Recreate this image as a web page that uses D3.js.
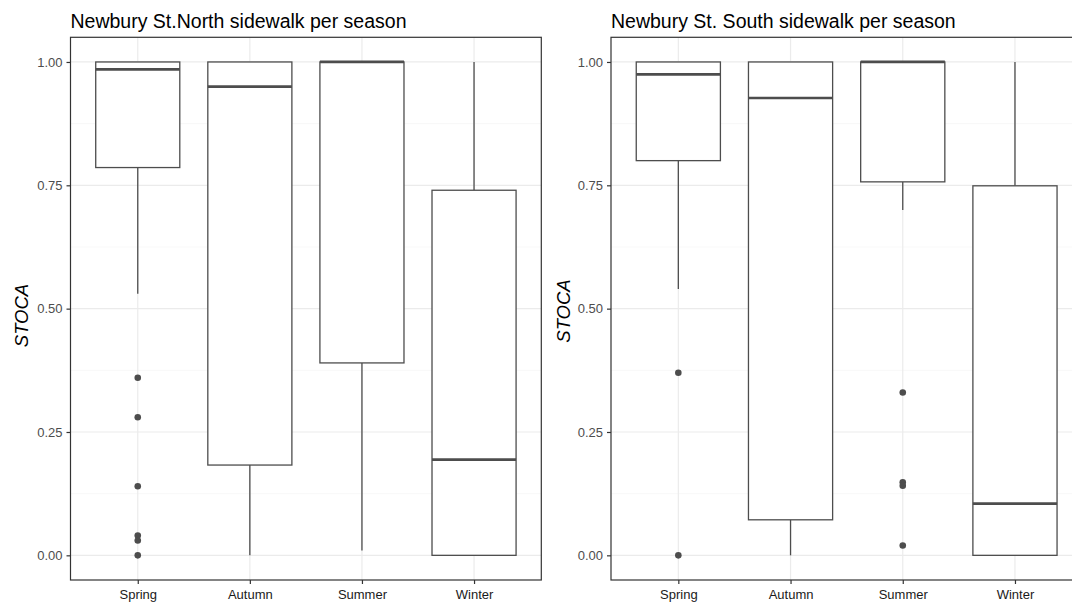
<!DOCTYPE html>
<html>
<head>
<meta charset="utf-8">
<script src="https://cdn.jsdelivr.net/npm/d3@7"></script>
<style>
  html, body { margin: 0; padding: 0; background: #fff; }
  svg { display: block; font-family: "Liberation Sans", Arial, Helvetica, sans-serif; }
</style>
</head>
<body>
<svg id="chart" width="1072" height="604"></svg>
<script>
// Seasons on the x axis
const seasons = ["Spring", "Autumn", "Summer", "Winter"];
const yTicks = [0, 0.25, 0.5, 0.75, 1.0];
const yMinor = [0.125, 0.375, 0.625, 0.875];

// North sidewalk box statistics per season
const northLower  = [0.53, 0.00, 0.01, 0.00];
const northQ1     = [0.786, 0.183, 0.39, 0.00];
const northMedian = [0.985, 0.95, 1.00, 0.194];
const northQ3     = [1.00, 1.00, 1.00, 0.74];
const northUpper  = [1.00, 1.00, 1.00, 1.00];
const northOutliers = [
  [0.36, 0.28, 0.14, 0.04, 0.03, 0.00],
  [], [], []
];

// South sidewalk box statistics per season
const southLower  = [0.54, 0.00, 0.70, 0.00];
const southQ1     = [0.80, 0.072, 0.757, 0.00];
const southMedian = [0.975, 0.927, 1.00, 0.105];
const southQ3     = [1.00, 1.00, 1.00, 0.749];
const southUpper  = [1.00, 1.00, 1.00, 1.00];
const southOutliers = [
  [0.37, 0.00],
  [],
  [0.33, 0.148, 0.141, 0.02],
  []
];

function buildStats(lower, q1, med, q3, upper, outs) {
  return seasons.map((s, i) => ({
    season: s, lower: lower[i], q1: q1[i], median: med[i],
    q3: q3[i], upper: upper[i], outliers: outs[i]
  }));
}

const panels = [
  { title: "Newbury St.North sidewalk per season", left: 70.5, right: 541.3,
    stats: buildStats(northLower, northQ1, northMedian, northQ3, northUpper, northOutliers),
    labelX: 28.3, labelY: 315.5 },
  { title: "Newbury St. South sidewalk per season", left: 611, right: 1082.3,
    stats: buildStats(southLower, southQ1, southMedian, southQ3, southUpper, southOutliers),
    labelX: 569.5, labelY: 311 }
];

const plotTop = 37.3, plotBottom = 580;
const boxColor = "#4d4d4d";
const gridColor = "#ebebeb";

const svg = d3.select("#chart");

const y = d3.scaleLinear().domain([-0.05, 1.05]).range([plotBottom, plotTop]);

panels.forEach(p => {
  const g = svg.append("g");
  // discrete axis with 0.6 units of padding on each side
  const x = d3.scalePoint()
    .domain(seasons)
    .range([p.left, p.right])
    .padding(0.6);
  const step = x.step();
  const halfW = step * 0.75 / 2;

  // minor gridlines
  g.selectAll(".minor").data(yMinor).join("line")
    .attr("x1", p.left).attr("x2", p.right)
    .attr("y1", d => y(d)).attr("y2", d => y(d))
    .attr("stroke", "#f3f3f3").attr("stroke-width", 0.6);

  // major gridlines
  g.selectAll(".majorY").data(yTicks).join("line")
    .attr("x1", p.left).attr("x2", p.right)
    .attr("y1", d => y(d)).attr("y2", d => y(d))
    .attr("stroke", gridColor).attr("stroke-width", 1.2);
  g.selectAll(".majorX").data(seasons).join("line")
    .attr("x1", d => x(d)).attr("x2", d => x(d))
    .attr("y1", plotTop).attr("y2", plotBottom)
    .attr("stroke", gridColor).attr("stroke-width", 1.2);

  // whiskers
  const box = g.selectAll(".box").data(p.stats).join("g");
  box.append("line")
    .attr("x1", d => x(d.season)).attr("x2", d => x(d.season))
    .attr("y1", d => y(d.q3)).attr("y2", d => y(d.upper))
    .attr("stroke", boxColor).attr("stroke-width", 1.3);
  box.append("line")
    .attr("x1", d => x(d.season)).attr("x2", d => x(d.season))
    .attr("y1", d => y(d.q1)).attr("y2", d => y(d.lower))
    .attr("stroke", boxColor).attr("stroke-width", 1.3);

  // boxes
  box.append("rect")
    .attr("x", d => x(d.season) - halfW)
    .attr("width", halfW * 2)
    .attr("y", d => y(d.q3))
    .attr("height", d => Math.max(0, y(d.q1) - y(d.q3)))
    .attr("fill", "#fff")
    .attr("stroke", boxColor).attr("stroke-width", 1.3);

  // medians
  box.append("line")
    .attr("x1", d => x(d.season) - halfW).attr("x2", d => x(d.season) + halfW)
    .attr("y1", d => y(d.median)).attr("y2", d => y(d.median))
    .attr("stroke", boxColor).attr("stroke-width", 2.7);

  // outliers
  box.selectAll("circle").data(d => d.outliers.map(v => ({ season: d.season, v })))
    .join("circle")
    .attr("cx", d => x(d.season)).attr("cy", d => y(d.v))
    .attr("r", 3.3).attr("fill", boxColor);

  // panel border
  g.append("rect")
    .attr("x", p.left).attr("y", plotTop)
    .attr("width", p.right - p.left).attr("height", plotBottom - plotTop)
    .attr("fill", "none").attr("stroke", "#333").attr("stroke-width", 1.2);

  // axes
  const yAxis = d3.axisLeft(y).tickValues(yTicks).tickFormat(d3.format(".2f"))
    .tickSize(4).tickPadding(4);
  const ya = g.append("g").attr("transform", `translate(${p.left},0)`).call(yAxis);
  const xAxis = d3.axisBottom(x).tickSize(4).tickPadding(6);
  const xa = g.append("g").attr("transform", `translate(0,${plotBottom})`).call(xAxis);
  [ya, xa].forEach(a => {
    a.select(".domain").remove();
    a.selectAll(".tick line").attr("stroke", "#333").attr("stroke-width", 1.2);
    a.selectAll(".tick text")
      .attr("font-size", 13)
      .attr("font-family", "Liberation Sans, Arial, sans-serif");
  });
  ya.selectAll(".tick text").attr("fill", "#4d4d4d");
  xa.selectAll(".tick text").attr("fill", "#1a1a1a");

  // title
  g.append("text")
    .attr("x", p.left).attr("y", 27.5)
    .attr("font-size", 19.5).attr("fill", "#000")
    .text(p.title);

  // y axis label
  g.append("text")
    .attr("transform", `translate(${p.labelX},${p.labelY}) rotate(-90)`)
    .attr("text-anchor", "middle")
    .attr("font-size", 18.5).attr("font-style", "italic").attr("fill", "#000")
    .text("STOCA");
});
</script>
</body>
</html>
